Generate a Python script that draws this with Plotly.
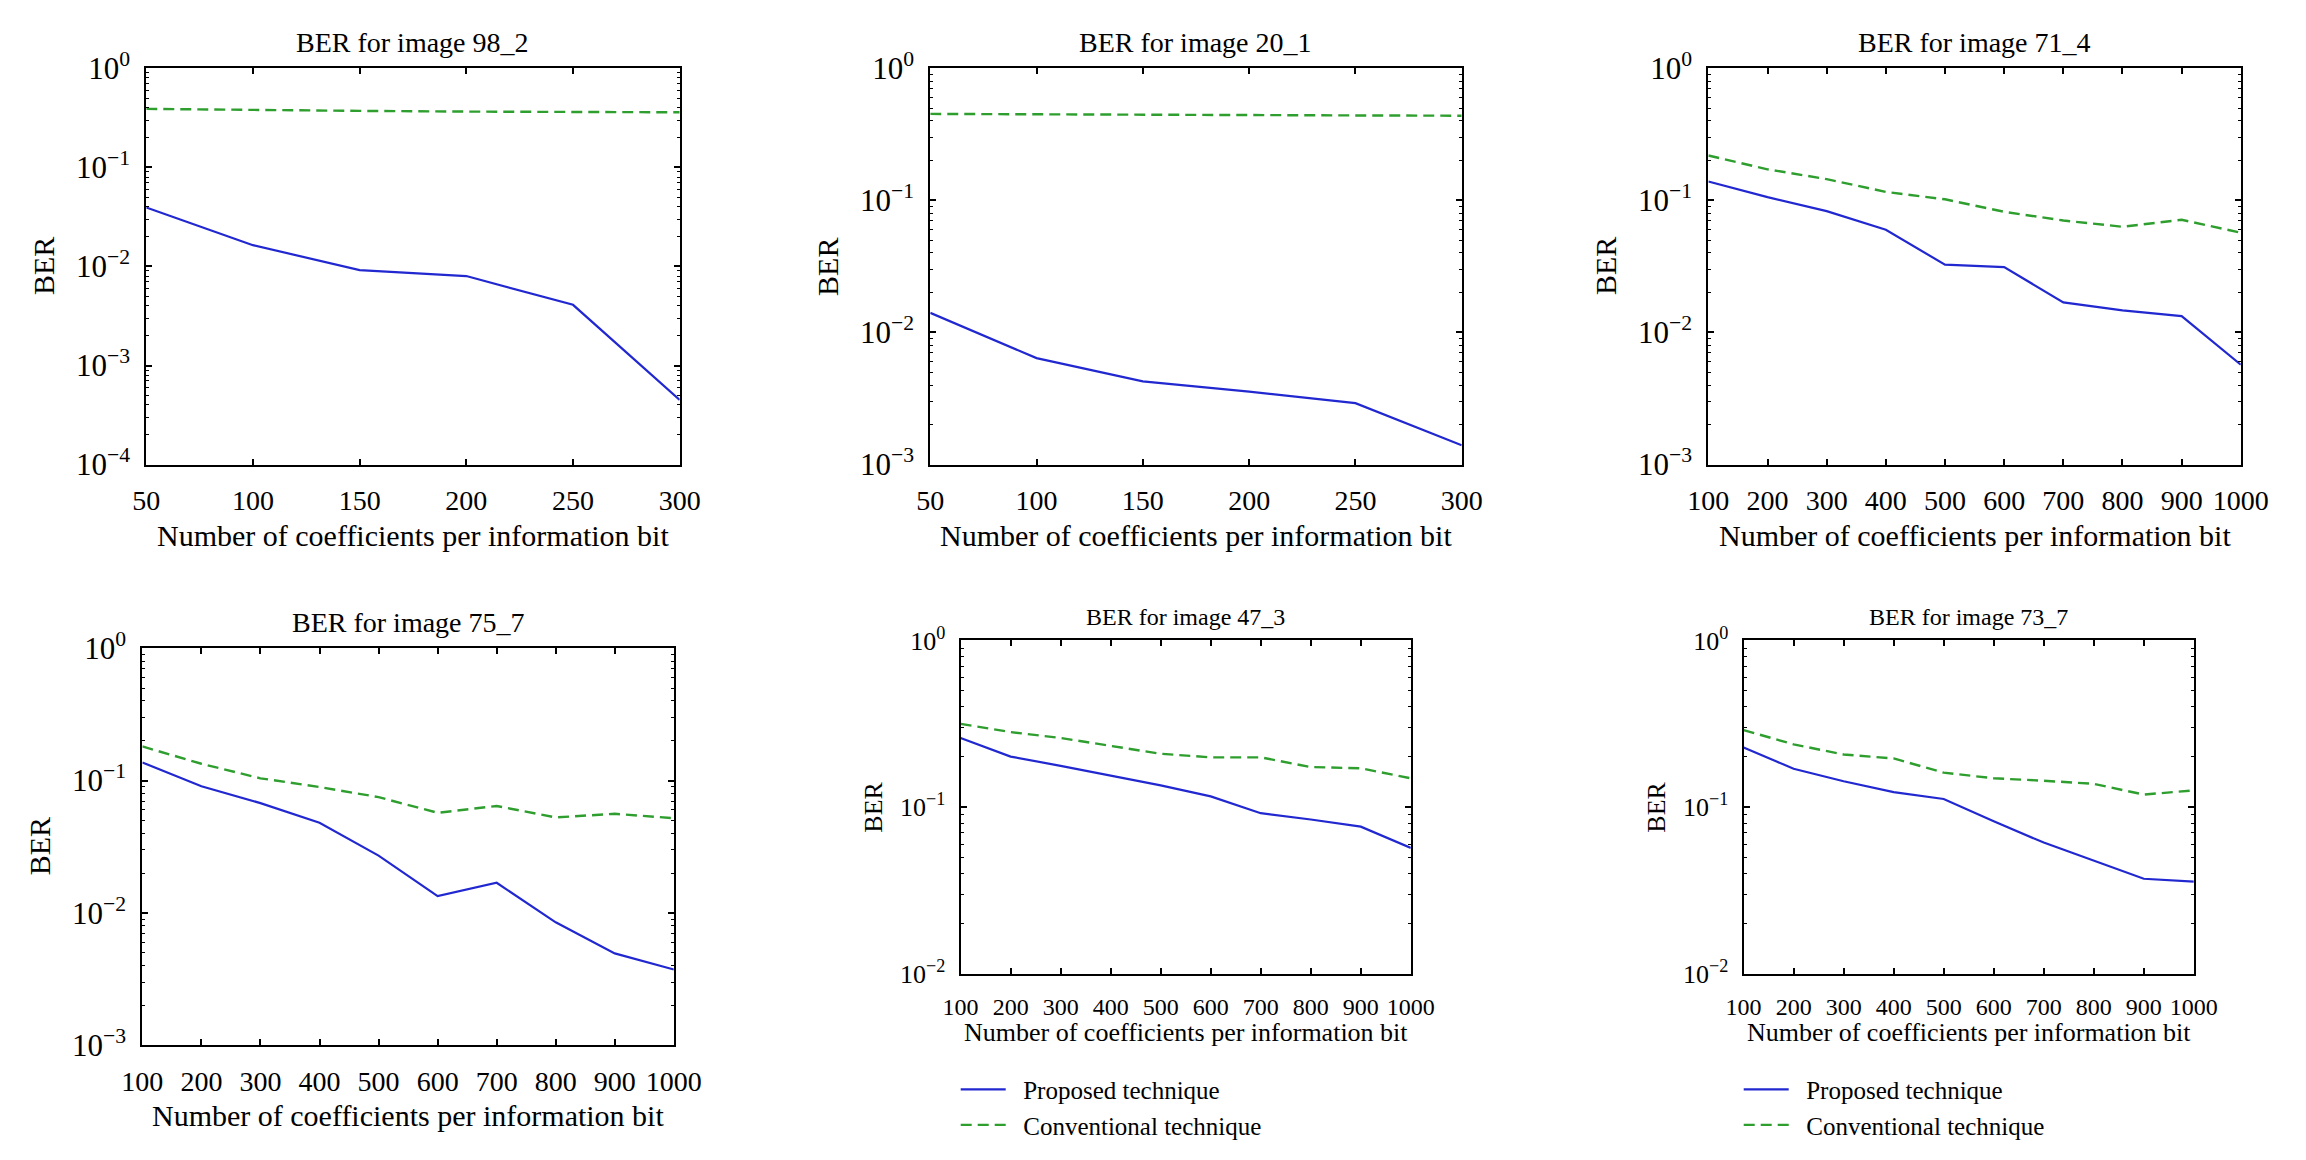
import plotly.graph_objects as go

# ---------------- data ----------------
titles = ["BER for image 98_2", "BER for image 20_1", "BER for image 71_4",
          "BER for image 75_7", "BER for image 47_3", "BER for image 73_7"]

x_short = [50, 100, 150, 200, 250, 300]
x_long = [100, 200, 300, 400, 500, 600, 700, 800, 900, 1000]

proposed_98_2 = [0.0394, 0.0164, 0.0092, 0.0080, 0.0041, 0.00045]
conventional_98_2 = [0.39, 0.378, 0.372, 0.366, 0.364, 0.36]

proposed_20_1 = [0.0141, 0.0064, 0.00427, 0.00357, 0.00292, 0.0014]
conventional_20_1 = [0.452, 0.448, 0.446, 0.444, 0.440, 0.438]

proposed_71_4 = [0.139, 0.106, 0.083, 0.060, 0.0326, 0.0313, 0.0169, 0.0147, 0.0133, 0.0057]
conventional_71_4 = [0.219, 0.172, 0.145, 0.116, 0.102, 0.082, 0.0705, 0.0632, 0.0713, 0.057]

proposed_75_7 = [0.137, 0.0905, 0.0676, 0.048, 0.0271, 0.0134, 0.0169, 0.0085, 0.00495, 0.00374]
conventional_75_7 = [0.181, 0.134, 0.104, 0.0894, 0.075, 0.0571, 0.0643, 0.0527, 0.0561, 0.052]

proposed_47_3 = [0.26, 0.201, 0.177, 0.154, 0.135, 0.116, 0.092, 0.0843, 0.0764, 0.0569]
conventional_47_3 = [0.316, 0.282, 0.26, 0.232, 0.209, 0.199, 0.199, 0.174, 0.171, 0.149]

proposed_73_7 = [0.228, 0.17, 0.143, 0.123, 0.112, 0.0822, 0.0613, 0.048, 0.0372, 0.0357]
conventional_73_7 = [0.29, 0.238, 0.207, 0.196, 0.161, 0.149, 0.144, 0.138, 0.119, 0.126]

series_names = ["Proposed technique", "Conventional technique"]
x_axis_title = "Number of coefficients per information bit"
y_axis_title = "BER"
y_exponents = [0, -1, -2, -3, -4]

# ---------------- layout helpers ----------------
W, H = 2306, 1160
BLUE = "#2228d0"
GREEN = "#2e9e2e"
FONT = "Liberation Serif"

# pixel boxes: (left, right, top, bottom)
panels = [
    dict(box=(128, 673, 49, 459), yr=(-4, 0), x=x_short, p=proposed_98_2, c=conventional_98_2, big=True),
    dict(box=(929, 1472, 49, 459), yr=(-3, 0), x=x_short, p=proposed_20_1, c=conventional_20_1, big=True),
    dict(box=(1724, 2268, 49, 459), yr=(-3, 0), x=x_long, p=proposed_71_4, c=conventional_71_4, big=True),
    dict(box=(124, 667, 649, 1060), yr=(-3, 0), x=x_long, p=proposed_75_7, c=conventional_75_7, big=True),
    dict(box=(960, 1420, 641, 986), yr=(-2, 0), x=x_long, p=proposed_47_3, c=conventional_47_3, big=False),
    dict(box=(1760, 2220, 641, 986), yr=(-2, 0), x=x_long, p=proposed_73_7, c=conventional_73_7, big=False),
]


def sup_label(e):
    s = str(abs(e)) if e >= 0 else "\u2212" + str(abs(e))
    return "10<sup>" + s + "</sup>"


fig = go.Figure()
annotations = []
layout_axes = {}

for i, pnl in enumerate(panels, start=1):
    l, r, t, b = pnl["box"]
    big = pnl["big"]
    xtick_fs = 28 if big else 24
    ytick_fs = 31 if big else 26
    title_fs = 28 if big else 24
    axt_fs = 30 if big else 26
    xa = "x" if i == 1 else f"x{i}"
    ya = "y" if i == 1 else f"y{i}"
    show_leg = i in (5, 6)
    legend_id = "legend2" if i == 6 else "legend"

    fig.add_trace(go.Scatter(
        x=pnl["x"], y=pnl["p"], mode="lines", name="\u2002" + series_names[0],
        line=dict(color=BLUE, width=2.2), xaxis=xa, yaxis=ya,
        showlegend=show_leg, legend=legend_id))
    fig.add_trace(go.Scatter(
        x=pnl["x"], y=pnl["c"], mode="lines", name="\u2002" + series_names[1],
        line=dict(color=GREEN, width=2.4, dash="11px,6px"), xaxis=xa, yaxis=ya,
        showlegend=show_leg, legend=legend_id))

    exps = [e for e in y_exponents if pnl["yr"][0] <= e <= pnl["yr"][1]]
    xs = pnl["x"]
    xkey = "xaxis" if i == 1 else f"xaxis{i}"
    ykey = "yaxis" if i == 1 else f"yaxis{i}"
    layout_axes[xkey] = dict(
        domain=[l / W, r / W], anchor=ya, range=[xs[0], xs[-1]],
        tickmode="array", tickvals=xs,
        ticks="inside", ticklen=6, tickwidth=1.5, tickcolor="black",
        showline=True, linecolor="black", linewidth=2, mirror="ticks",
        showgrid=False, zeroline=False,
        tickfont=dict(family=FONT, size=xtick_fs, color="black"),
        ticklabelstandoff=10,
    )
    layout_axes[ykey] = dict(
        domain=[1 - b / H, 1 - t / H], anchor=xa, type="log",
        range=list(pnl["yr"]),
        tickmode="array", tickvals=[10 ** e for e in exps],
        ticktext=[sup_label(e) for e in exps],
        ticks="inside", ticklen=6, tickwidth=1.5, tickcolor="black",
        minor=dict(ticks="inside", ticklen=3, tickwidth=1, tickcolor="black",
                   tickmode="linear", dtick="D1", showgrid=False),
        showline=True, linecolor="black", linewidth=2, mirror="ticks",
        showgrid=False, zeroline=False,
        tickfont=dict(family=FONT, size=ytick_fs, color="black"),
        ticklabelstandoff=8,
    )
    # panel title
    annotations.append(dict(
        text=titles[i - 1], xref="paper", yref="paper",
        x=(l + r) / 2 / W, y=1 - (t - (27 if big else 24)) / H,
        xanchor="center", yanchor="middle", showarrow=False,
        font=dict(family=FONT, size=title_fs, color="black")))
    # x-axis title
    annotations.append(dict(
        text=x_axis_title, xref="paper", yref="paper",
        x=(l + r) / 2 / W, y=1 - (b + (73 if big else 61)) / H,
        xanchor="center", yanchor="middle", showarrow=False,
        font=dict(family=FONT, size=axt_fs, color="black")))
    # y-axis title
    annotations.append(dict(
        text=y_axis_title, xref="paper", yref="paper", textangle=-90,
        x=(l - (105 if big else 89)) / W, y=1 - (t + b) / 2 / H,
        xanchor="center", yanchor="middle", showarrow=False,
        font=dict(family=FONT, size=axt_fs, color="black")))

legend_common = dict(
    font=dict(family=FONT, size=25, color="black"), bgcolor="rgba(0,0,0,0)",
    borderwidth=0, xanchor="left", yanchor="top", itemwidth=45,
    tracegroupgap=0, traceorder="normal")

fig.update_layout(
    width=W, height=H, autosize=False,
    margin=dict(l=0, r=0, t=0, b=0),
    paper_bgcolor="white", plot_bgcolor="white",
    font=dict(family=FONT, color="black"),
    annotations=annotations,
    legend=dict(x=955 / W, y=1 - 1082 / H, **legend_common),
    legend2=dict(x=1755 / W, y=1 - 1082 / H, **legend_common),
    **layout_axes,
)

fig.write_html("out.html",
               config={"displayModeBar": False},
               post_script="document.body.style.margin='0';document.body.style.overflow='hidden';")
